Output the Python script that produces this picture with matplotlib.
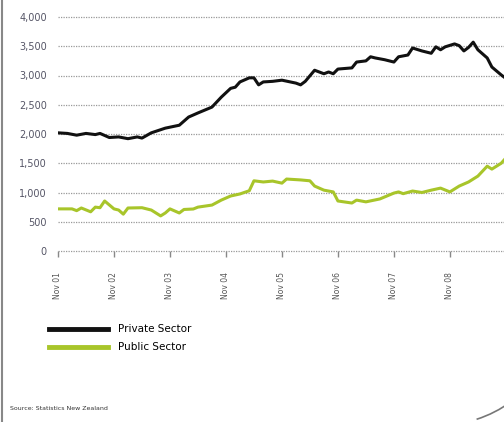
import matplotlib
matplotlib.use('Agg')
import matplotlib.pyplot as plt
from matplotlib.lines import Line2D
from matplotlib.patches import Arc

# months since Nov 2001
priv_m = [0, 2, 4, 6, 8, 9, 11, 13, 15, 17, 18, 20, 23, 26, 28, 30, 33, 35, 37, 38, 39, 41,
          42, 43, 44, 46, 48, 51, 52, 53, 55, 57, 58, 59, 60, 63, 64, 66, 67, 68, 70, 72,
          73, 75, 76, 78, 80, 81, 82, 83, 85, 86, 87, 88, 89, 90, 92, 93, 95, 96]
priv_v = [2020, 2010, 1980, 2010, 1990, 2010, 1940, 1950, 1920, 1950, 1930, 2020, 2100, 2150,
          2290, 2360, 2460, 2630, 2780, 2800, 2890, 2960, 2960, 2840, 2890, 2900, 2920, 2870,
          2840, 2900, 3090, 3030, 3060, 3030, 3110, 3130, 3230, 3250, 3320, 3300, 3270, 3230,
          3320, 3350, 3470, 3420, 3380, 3490, 3440, 3490, 3540, 3510, 3420, 3480, 3570, 3440,
          3300, 3145, 3010, 2950]

pub_m = [0, 3, 4, 5, 7, 8, 9, 10, 12, 13, 14, 15, 18, 20, 22, 23, 24, 26, 27, 29, 30, 33,
         35, 37, 39, 41, 42, 44, 46, 48, 49, 52, 54, 55, 57, 59, 60, 63, 64, 66, 69, 72, 73,
         74, 76, 78, 80, 82, 84, 86, 88, 90, 92, 93, 95, 96]
pub_v = [720, 720, 690, 735, 670, 750, 740, 855, 720, 700, 630, 735, 740, 700, 600, 650, 720,
         650, 710, 718, 750, 785, 870, 940, 975, 1030, 1200, 1180, 1195, 1160, 1230, 1215,
         1200, 1110, 1040, 1010, 855, 820, 870, 840, 890, 990, 1010, 980, 1025, 1000, 1040,
         1075, 1010, 1110, 1180, 1280, 1450, 1400, 1500, 1590]

tick_m = [0, 12, 24, 36, 48, 60, 72, 84]
tick_lab = ['Nov 01', 'Nov 02', 'Nov 03', 'Nov 04', 'Nov 05', 'Nov 06', 'Nov 07', 'Nov 08']
y_ticks = [0, 500, 1000, 1500, 2000, 2500, 3000, 3500, 4000]

W, H = 504, 422
fig = plt.figure(figsize=(W / 100, H / 100), dpi=100)
ax = fig.add_axes([58 / W, 171 / H, 446 / W, 234 / H])

ax.plot(priv_m, priv_v, color='#111111', lw=2.2, label='Private Sector', solid_joinstyle='round')
ax.plot(pub_m, pub_v, color='#a8c52a', lw=2.2, label='Public Sector', solid_joinstyle='round')

ax.set_xlim(0, 95.6)
ax.set_ylim(0, 4000)
ax.set_yticks(y_ticks)
ax.set_yticklabels([f'{v:,}' for v in y_ticks], fontsize=7, color='#555566')
ax.set_xticks(tick_m)
ax.set_xticklabels(tick_lab, rotation=90, fontsize=5.5, color='#555555')
ax.tick_params(axis='y', length=0, pad=8)
ax.tick_params(axis='x', length=4, width=1, color='#888888', pad=11)
ax.grid(axis='y', color='#999999', lw=0.9, linestyle=(0, (1, 1)))
for gl in ax.get_ygridlines():
    gl.set_clip_on(False)
for s in ax.spines.values():
    s.set_visible(False)
ax.set_axisbelow(True)

fig.legend(loc='upper left', bbox_to_anchor=(45 / W, 1 - 320 / H), frameon=False,
           fontsize=7.5, handlelength=5.6, handletextpad=1.0, labelspacing=0.8,
           borderaxespad=0)
for lh in fig.legends[0].get_lines():
    lh.set_linewidth(3.5)

fig.text(10 / W, 1 - 409 / H, 'Source: Statistics New Zealand', fontsize=4.5,
         color='#333333', va='center')

fig.add_artist(Line2D([2 / W, 2 / W], [0, 1], color='#888888', lw=1.5))
fig.add_artist(Arc((440 / W, 1 - 305 / H), 240 / W, 240 / H, theta1=285, theta2=320,
                   color='#777777', lw=1.2))

fig.savefig('out.png', dpi=100)
